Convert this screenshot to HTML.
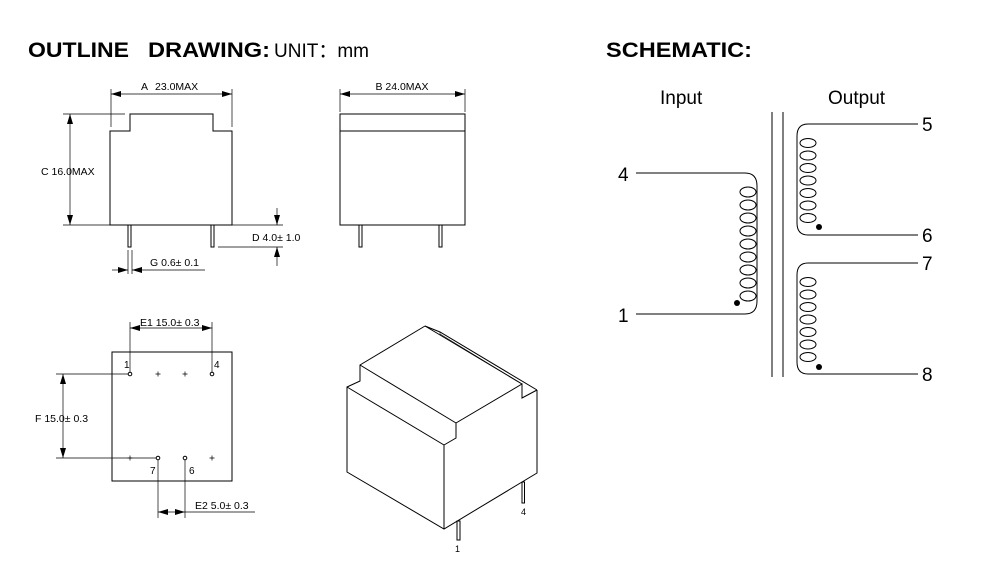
<!DOCTYPE html>
<html><head><meta charset="utf-8"><style>
html,body{margin:0;padding:0;background:#fff;}
svg{display:block;font-family:"Liberation Sans",Arial,sans-serif;}
</style></head><body>
<svg width="1000" height="588" viewBox="0 0 1000 588" xmlns="http://www.w3.org/2000/svg">
<defs>
<marker id="ar" viewBox="0 0 10 6" refX="10" refY="3" markerWidth="10" markerHeight="6" orient="auto-start-reverse" markerUnits="userSpaceOnUse"><path d="M0,0 L10,3 L0,6 z" fill="#000"/></marker>
</defs>
<text x="28" y="57" font-size="21" font-weight="bold" textLength="101" lengthAdjust="spacingAndGlyphs">OUTLINE</text>
<text x="148" y="57" font-size="21" font-weight="bold" textLength="122" lengthAdjust="spacingAndGlyphs">DRAWING:</text>
<text x="274" y="57" font-size="19">UNIT：mm</text>
<text x="606" y="57" font-size="21" font-weight="bold" textLength="146" lengthAdjust="spacingAndGlyphs">SCHEMATIC:</text>

<g stroke="#000" stroke-width="1" fill="none">
<path d="M110,225 V131 H130 V114 H213 V131 H232 V225 Z"/>
<rect x="128" y="225" width="3" height="22"/>
<rect x="211" y="225" width="3" height="22"/>
<line x1="111" y1="89" x2="111" y2="127" stroke-width="0.7"/>
<line x1="232" y1="89" x2="232" y2="127" stroke-width="0.7"/>
<line x1="111" y1="94" x2="232" y2="94" marker-start="url(#ar)" marker-end="url(#ar)" stroke-width="0.7"/>
<line x1="63" y1="114" x2="125" y2="114" stroke-width="0.7"/>
<line x1="63" y1="225" x2="110" y2="225" stroke-width="0.7"/>
<line x1="70" y1="114" x2="70" y2="225" marker-start="url(#ar)" marker-end="url(#ar)" stroke-width="0.7"/>
<line x1="232" y1="225" x2="283" y2="225" stroke-width="0.7"/>
<line x1="218" y1="247" x2="283" y2="247" stroke-width="0.7"/>
<line x1="277" y1="208" x2="277" y2="225" marker-end="url(#ar)" stroke-width="0.7"/>
<line x1="277" y1="266" x2="277" y2="247" marker-end="url(#ar)" stroke-width="0.7"/>
<line x1="128" y1="250" x2="128" y2="274" stroke-width="0.7"/>
<line x1="132" y1="250" x2="132" y2="274" stroke-width="0.7"/>
<line x1="112" y1="270" x2="128" y2="270" marker-end="url(#ar)" stroke-width="0.7"/>
<line x1="205" y1="270" x2="132" y2="270" marker-end="url(#ar)" stroke-width="0.7"/>

<rect x="340" y="114" width="125" height="111"/>
<line x1="340" y1="131" x2="465" y2="131"/>
<rect x="359" y="225" width="3" height="22"/>
<rect x="439" y="225" width="3" height="22"/>
<line x1="340" y1="89" x2="340" y2="112" stroke-width="0.7"/>
<line x1="465" y1="89" x2="465" y2="112" stroke-width="0.7"/>
<line x1="340" y1="94" x2="465" y2="94" marker-start="url(#ar)" marker-end="url(#ar)" stroke-width="0.7"/>

<rect x="112" y="352" width="120" height="129"/>
<line x1="130" y1="322" x2="130" y2="372" stroke-width="0.7"/>
<line x1="212" y1="322" x2="212" y2="372" stroke-width="0.7"/>
<line x1="130" y1="328" x2="212" y2="328" marker-start="url(#ar)" marker-end="url(#ar)" stroke-width="0.7"/>
<line x1="56" y1="374" x2="128" y2="374" stroke-width="0.7"/>
<line x1="56" y1="458" x2="156" y2="458" stroke-width="0.7"/>
<line x1="63" y1="374" x2="63" y2="458" marker-start="url(#ar)" marker-end="url(#ar)" stroke-width="0.7"/>
<line x1="158" y1="460" x2="158" y2="518" stroke-width="0.7"/>
<line x1="185" y1="460" x2="185" y2="518" stroke-width="0.7"/>
<line x1="158" y1="512" x2="185" y2="512" marker-start="url(#ar)" marker-end="url(#ar)" stroke-width="0.7"/>
<line x1="185" y1="512" x2="255" y2="512" stroke-width="0.7"/>
<circle cx="130" cy="374" r="1.8"/><circle cx="212" cy="374" r="1.8"/>
<circle cx="158" cy="458" r="1.8"/><circle cx="185" cy="458" r="1.8"/>
<g stroke-width="0.7">
<path d="M155.5,374 h5 M158,371.5 v5 M182.5,374 h5 M185,371.5 v5 M209.5,458 h5 M212,455.5 v5 M127.5,458 h5 M130,455.5 v5"/>
</g>

<path d="M425,326 L360,365 V381 L347,387 V472 L444,529 L537,473 V390"/>
<path d="M347,387 L444,445 V529"/>
<path d="M444,445 L456,438 V423 L522,384 V398 L537,390"/>
<path d="M360,365 L456,423"/>
<path d="M425,326 L440,332 L537,390"/>
<path d="M425,326 L522,384"/>
<path d="M440,332 L440,334 L522,384" stroke-width="0.6"/>
<rect x="457" y="521" width="3" height="19"/>
<rect x="522" y="482" width="2.5" height="21"/>

<line x1="772" y1="112" x2="772" y2="377"/>
<line x1="783" y1="112" x2="783" y2="377"/>
<path d="M636,173 H745 Q757,173 757,186 V301 Q757,314 745,314 H636"/>
<g>
<ellipse cx="748" cy="192" rx="8" ry="5"/><ellipse cx="748" cy="205" rx="8" ry="5"/><ellipse cx="748" cy="218" rx="8" ry="5"/>
<ellipse cx="748" cy="231" rx="8" ry="5"/><ellipse cx="748" cy="244" rx="8" ry="5"/><ellipse cx="748" cy="257" rx="8" ry="5"/>
<ellipse cx="748" cy="270" rx="8" ry="5"/><ellipse cx="748" cy="283" rx="8" ry="5"/><ellipse cx="748" cy="296" rx="8" ry="5"/>
</g>
<path d="M918,124 H808 Q797,124 797,136 V223 Q797,235 808,235 H918"/>
<g>
<ellipse cx="808" cy="143" rx="8" ry="4.5"/><ellipse cx="808" cy="155.5" rx="8" ry="4.5"/><ellipse cx="808" cy="168" rx="8" ry="4.5"/>
<ellipse cx="808" cy="180.5" rx="8" ry="4.5"/><ellipse cx="808" cy="193" rx="8" ry="4.5"/><ellipse cx="808" cy="205.5" rx="8" ry="4.5"/>
<ellipse cx="808" cy="218" rx="8" ry="4.5"/>
</g>
<path d="M918,263 H808 Q797,263 797,275 V362 Q797,374 808,374 H918"/>
<g>
<ellipse cx="808" cy="282" rx="8" ry="4.5"/><ellipse cx="808" cy="294.5" rx="8" ry="4.5"/><ellipse cx="808" cy="307" rx="8" ry="4.5"/>
<ellipse cx="808" cy="319.5" rx="8" ry="4.5"/><ellipse cx="808" cy="332" rx="8" ry="4.5"/><ellipse cx="808" cy="344.5" rx="8" ry="4.5"/>
<ellipse cx="808" cy="357" rx="8" ry="4.5"/>
</g>
</g>
<circle cx="737" cy="303" r="3" fill="#000"/>
<circle cx="819" cy="227" r="3" fill="#000"/>
<circle cx="819" cy="367" r="3" fill="#000"/>

<g font-size="10.5">
<text x="141" y="90">A</text><text x="155" y="90">23.0MAX</text>
<text x="402" y="90" text-anchor="middle">B 24.0MAX</text>
<text x="41" y="175">C 16.0MAX</text>
<text x="252" y="241">D 4.0± 1.0</text>
<text x="150" y="266">G 0.6± 0.1</text>
<text x="140" y="326">E1 15.0± 0.3</text>
<text x="35" y="422">F 15.0± 0.3</text>
<text x="195" y="509">E2 5.0± 0.3</text>
<text x="124" y="368" font-size="10">1</text>
<text x="214" y="368" font-size="10">4</text>
<text x="150" y="474" font-size="10">7</text>
<text x="189" y="474" font-size="10">6</text>
<text x="455" y="552" font-size="9">1</text>
<text x="521" y="515" font-size="9">4</text>
</g>
<g font-size="19">
<text x="660" y="104">Input</text>
<text x="828" y="104">Output</text>
<text x="618" y="181">4</text>
<text x="618" y="322">1</text>
<text x="922" y="131">5</text>
<text x="922" y="242">6</text>
<text x="922" y="270">7</text>
<text x="922" y="381">8</text>
</g>
</svg>
</body></html>
